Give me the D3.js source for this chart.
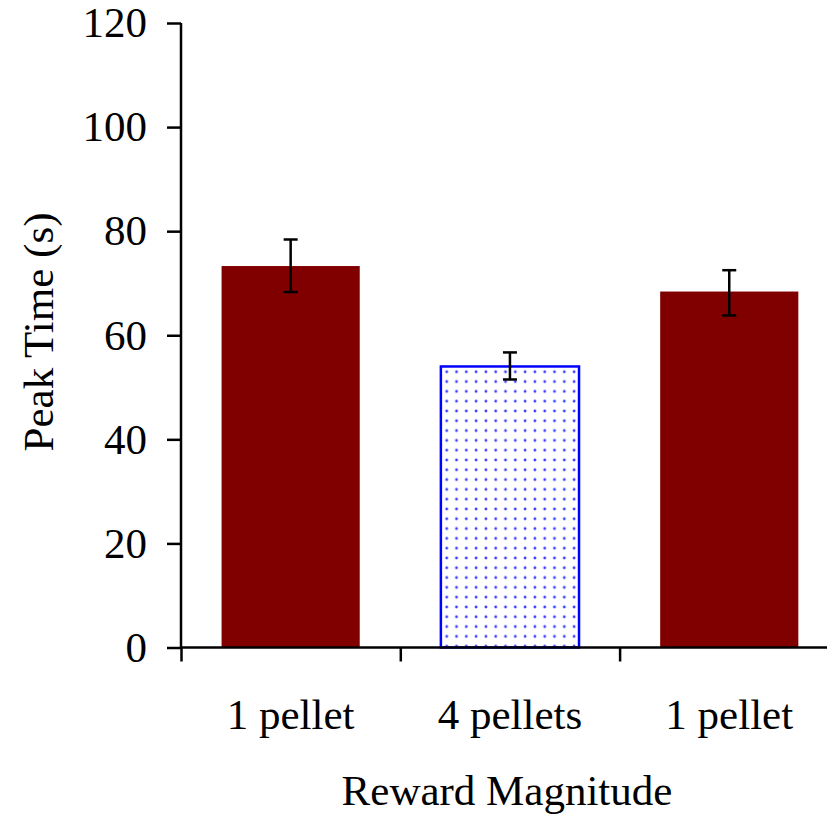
<!DOCTYPE html>
<html>
<head>
<meta charset="utf-8">
<title>peak time bars</title>
<script src="https://d3js.org/d3.v7.min.js"></script>
<style>
  body { margin: 0; background: #fff; }
  text { font-family: "Liberation Serif", "Times New Roman", serif; }
</style>
</head>
<body>
<script>
var categories = ["1 pellet", "4 pellets", "1 pellet"];
var peakTimes = [73.3, 54.0, 68.4];
var errHigh = [78.4, 56.7, 72.5];
var errLow = [68.3, 51.5, 63.8];
var patterned = [false, true, false];
var yTicks = [0, 20, 40, 60, 80, 100, 120];

var width = 827, height = 819;
var margin = {top: 23, left: 181, bottom: 171.5};
var fontSize = "43px";

var svg = d3.select("body").append("svg")
    .attr("width", width)
    .attr("height", height);

// dot pattern for the middle bar
var defs = svg.append("defs");
var pat = defs.append("pattern")
    .attr("id", "dots")
    .attr("patternUnits", "userSpaceOnUse")
    .attr("width", 9.8)
    .attr("height", 9.8)
    .attr("x", 440 + 1.8)
    .attr("y", 366.7 + 0.2);
pat.append("rect").attr("width", 9.8).attr("height", 9.8).attr("fill", "#fff");
pat.append("circle").attr("cx", 4.9).attr("cy", 4.9).attr("r", 1.4).attr("fill", "#3a3aff");

var xScale = d3.scaleBand().domain(d3.range(categories.length))
    .range([margin.left, margin.left + 3 * 219.3])
    .paddingInner(0.37).paddingOuter(0.185);
var yScale = d3.scaleLinear().domain([0, 120]).range([height - margin.bottom, margin.top]);

// bars
svg.selectAll(".bar").data(peakTimes).enter().append("rect")
    .attr("class", "bar")
    .attr("x", function(d, i) { return xScale(i); })
    .attr("width", xScale.bandwidth())
    .attr("y", function(d) { return yScale(d); })
    .attr("height", function(d) { return yScale(0) - yScale(d); })
    .attr("fill", function(d, i) { return patterned[i] ? "url(#dots)" : "#800000"; })
    .attr("stroke", function(d, i) { return patterned[i] ? "#0000ff" : "none"; })
    .attr("stroke-width", 2.5);

// error bars
var err = svg.append("g").attr("stroke", "#000").attr("stroke-width", 2.5);
peakTimes.forEach(function(d, i) {
  var cx = xScale(i) + xScale.bandwidth() / 2;
  err.append("line").attr("x1", cx).attr("x2", cx)
      .attr("y1", yScale(errHigh[i])).attr("y2", yScale(errLow[i]));
  [errHigh[i], errLow[i]].forEach(function(v) {
    err.append("line").attr("x1", cx - 7).attr("x2", cx + 7)
        .attr("y1", yScale(v)).attr("y2", yScale(v));
  });
});

// y axis
var yAxis = svg.append("g")
    .attr("transform", "translate(" + margin.left + ",0)")
    .call(d3.axisLeft(yScale).tickValues(yTicks).tickSize(14).tickPadding(20));

// x axis
var xAxisScale = d3.scaleLinear().domain([0, 3]).range([margin.left, margin.left + 3 * 219.3]);
var xAxis = svg.append("g")
    .attr("transform", "translate(0," + yScale(0) + ")")
    .call(d3.axisBottom(xAxisScale).tickValues([0, 1, 2, 3]).tickSize(14).tickFormat(""));

[yAxis, xAxis].forEach(function(a) {
  a.select(".domain").attr("stroke", "#000").attr("stroke-width", 2.5);
  a.selectAll(".tick line").attr("stroke", "#000").attr("stroke-width", 2.5);
});
xAxis.select(".domain").attr("d", "M" + margin.left + ",0H" + (margin.left + 3 * 219.3));
yAxis.select(".domain").attr("d", "M0," + yScale(120) + "V" + yScale(0));
yAxis.selectAll(".tick text")
    .attr("fill", "#000")
    .style("font-size", fontSize)
    .style("font-family", "Liberation Serif, serif");

// category labels
svg.selectAll(".cat").data(categories).enter().append("text")
    .attr("class", "cat")
    .attr("x", function(d, i) { return xScale(i) + xScale.bandwidth() / 2; })
    .attr("y", 729)
    .attr("text-anchor", "middle")
    .style("font-size", fontSize)
    .text(function(d) { return d; });

svg.append("text")
    .attr("x", 507)
    .attr("y", 805)
    .attr("text-anchor", "middle")
    .style("font-size", fontSize)
    .text("Reward Magnitude");

svg.append("text")
    .attr("transform", "translate(53,332) rotate(-90)")
    .attr("text-anchor", "middle")
    .style("font-size", fontSize)
    .text("Peak Time (s)");
</script>
</body>
</html>
